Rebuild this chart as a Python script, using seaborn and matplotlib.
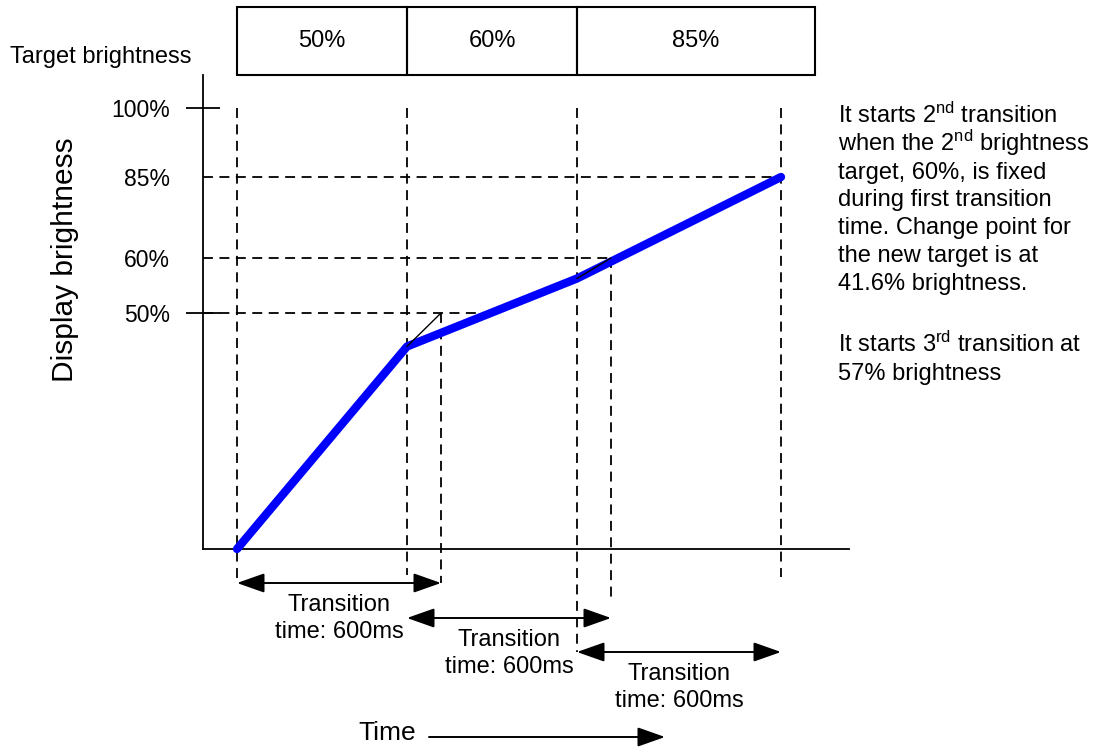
### Bibliotecas
import numpy as np
import matplotlib.pyplot as plt
import seaborn as sns

### Dados (tempo em ms, brilho em %)
alvos_pct = [50, 60, 85]
alvos_rotulos = ["50%", "60%", "85%"]
inicio_alvo_ms = [0, 500, 1000]
fim_caixa_ms = [500, 1000, 1700]
transicao_ms = 600
trajeto_ms = [0, 500, 1000, 1600]
trajeto_pct = [0, 41.6, 57, 85]
yticks_pct = [50, 60, 85, 100]
yticks_rotulos = ["50%", "60%", "85%", "100%"]
rotulo_transicao = "Transition\ntime: 600ms"
nota_1 = ["It starts 2$^{\\mathrm{nd}}$ transition",
          "when the 2$^{\\mathrm{nd}}$ brightness",
          "target, 60%, is fixed",
          "during first transition",
          "time. Change point for",
          "the new target is at",
          "41.6% brightness."]
nota_2 = ["It starts 3$^{\\mathrm{rd}}$ transition at",
          "57% brightness"]

### Layout (pixels da figura, origem no topo)
W, H = 1098, 749
# escala esquemática do eixo y: brilho -> altura em px acima do eixo
escala_pct = [-50, 0, 41.6, 50, 57, 60, 85, 100, 150]
escala_px = [-244, 0, 202.5, 236, 270.5, 291, 372, 441, 671]
guia_ms = [0, 500, 600, 1000, 1100, 1600]
guia_topo_pct = [100, 100, 50, 100, 60, 100]
guia_base_px = [583, 575, 583, 652, 603, 577]
linha_h_fim_ms = [750, 1100, 1600]
seta_y_px = [583, 618, 652]
tracejado = (0, (5.5, 3.6))

sns.set_theme(style = "white")
plt.rcParams["font.family"] = ["Liberation Sans", "DejaVu Sans"]
plt.rcParams["mathtext.fontset"] = "custom"
plt.rcParams["mathtext.rm"] = "Liberation Sans"
plt.rcParams["mathtext.it"] = "Liberation Sans:italic"
plt.rcParams["mathtext.bf"] = "Liberation Sans:bold"
plt.rcParams["text.color"] = "black"

fig = plt.figure(figsize = (W / 100, H / 100), dpi = 100)
fx = lambda px: px / W
fy = lambda py: 1 - py / H

### Eixo principal
ax = fig.add_axes([fx(203), fy(549), fx(849) - fx(203), fy(75) - fy(549)])
ida = lambda v: np.interp(v, escala_pct, escala_px)
volta = lambda v: np.interp(v, escala_px, escala_pct)
ax.set_yscale("function", functions = (ida, volta))
ax.set_xlim(-100, 1800)
ax.set_ylim(0, volta(474))
ax.set_facecolor("none")
for lado in ["top", "right"]:
    ax.spines[lado].set_visible(False)
for lado in ["left", "bottom"]:
    ax.spines[lado].set_color("black")
    ax.spines[lado].set_linewidth(1.3)
ax.set_xticks([])
ax.set_yticks(yticks_pct, yticks_rotulos)
ax.set_yticks([50, 100], minor = True)
ax.yaxis.remove_overlapping_locs = False
ax.tick_params(axis = "y", which = "major", left = False, length = 0, pad = 24,
               labelsize = 16.5, labelcolor = "black")
ax.tick_params(axis = "y", which = "minor", left = True, direction = "inout",
               length = 24.5, width = 1.3, color = "black")

def y_px(py):
    return ax.transData.inverted().transform((0, H - py))[1]

# linhas-guia tracejadas
for pct, fim in zip(alvos_pct, linha_h_fim_ms):
    ax.plot([-100, fim], [pct, pct], color = "black", lw = 1.3, ls = tracejado,
            zorder = 1, clip_on = False)
for t, topo, base in zip(guia_ms, guia_topo_pct, guia_base_px):
    ax.plot([t, t], [topo, y_px(base)], color = "black", lw = 1.3, ls = tracejado,
            zorder = 1, clip_on = False)

# brilho exibido
sns.lineplot(x = trajeto_ms, y = trajeto_pct, ax = ax, color = "#0000ff", linewidth = 6,
             solid_capstyle = "round", solid_joinstyle = "round", sort = False, zorder = 3)
ax.lines[-1].set_clip_on(False)
ax.set_xlabel("")
ax.set_ylabel("")

# prolongamento da transição anterior
for i in range(2):
    ax.plot([trajeto_ms[i + 1], inicio_alvo_ms[i] + transicao_ms],
            [trajeto_pct[i + 1], alvos_pct[i]], color = "black", lw = 1.0, zorder = 4)

# setas de tempo de transição
estilo_seta = "<|-|>,head_length=1.7,head_width=0.6"
for t0, py in zip(inicio_alvo_ms, seta_y_px):
    y = y_px(py)
    ax.annotate("", xy = (t0 + transicao_ms, y), xytext = (t0, y), annotation_clip = False,
                arrowprops = dict(arrowstyle = estilo_seta, mutation_scale = 10, color = "black",
                                  lw = 1.4, shrinkA = 0, shrinkB = 0))
    ax.text(t0 + transicao_ms / 2, y_px(py + 11), rotulo_transicao, ha = "center", va = "top",
            fontsize = 17, linespacing = 1.32, clip_on = False)

### Caixas de brilho alvo
ax_topo = fig.add_axes([fx(203), fy(75), fx(849) - fx(203), fy(7) - fy(75)], sharex = ax)
larguras = [f - i for i, f in zip(inicio_alvo_ms, fim_caixa_ms)]
ax_topo.barh(0.5, larguras, left = inicio_alvo_ms, height = 1, fill = False,
             edgecolor = "black", linewidth = 1.5, clip_on = False)
for i, f, rot in zip(inicio_alvo_ms, fim_caixa_ms, alvos_rotulos):
    ax_topo.text((i + f) / 2, 0.5, rot, ha = "center", va = "center", fontsize = 17)
ax_topo.set_ylim(0, 1)
ax_topo.axis("off")

### Textos soltos
ov = fig.add_axes([0, 0, 1, 1])
ov.set_xlim(0, W)
ov.set_ylim(H, 0)
ov.axis("off")
ov.text(10, 63, "Target brightness", ha = "left", va = "baseline", fontsize = 17)
ov.text(65, 260, "Display brightness", ha = "center", va = "center", rotation = 90, fontsize = 21.5)
ov.text(358, 733, "Time", ha = "left", va = "center", fontsize = 19)
ov.annotate("", xy = (665, 737), xytext = (429, 737),
            arrowprops = dict(arrowstyle = "-|>,head_length=1.7,head_width=0.6", mutation_scale = 10,
                              color = "black", lw = 1.4, shrinkA = 0, shrinkB = 0))
for k, linha in enumerate(nota_1):
    ov.text(838, 123 + k * 27.8, linha, ha = "left", va = "baseline", fontsize = 17)
for k, linha in enumerate(nota_2):
    ov.text(838, 352 + k * 27.8, linha, ha = "left", va = "baseline", fontsize = 17)

plt.savefig("out.png", dpi = 100)
